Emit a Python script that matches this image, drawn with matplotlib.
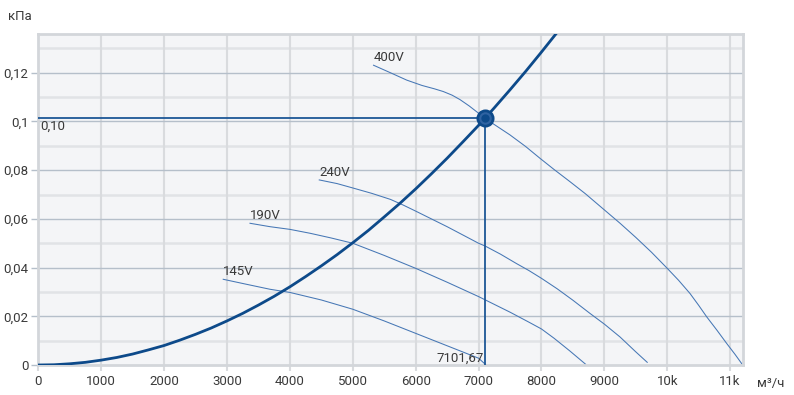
import matplotlib.pyplot as plt

plt.rcParams['font.family'] = ['Roboto', 'DejaVu Sans']

# system curve
sys_x = [0, 250, 500, 750, 1000, 1250, 1500, 1750, 2000, 2250, 2500, 2750,
         3000, 3250, 3500, 3750, 4000, 4250, 4500, 4750, 5000, 5250, 5500,
         5750, 6000, 6250, 6500, 6750, 7000, 7101.67, 7250, 7500, 7750,
         8000, 8250, 8500]
sys_y = [0, 0.0001, 0.0005, 0.0011, 0.0020, 0.0031, 0.0045, 0.0062, 0.0080,
         0.0102, 0.0126, 0.0152, 0.0181, 0.0212, 0.0246, 0.0282, 0.0321,
         0.0363, 0.0407, 0.0453, 0.0502, 0.0553, 0.0608, 0.0664, 0.0723,
         0.0785, 0.0849, 0.0916, 0.0984, 0.1013, 0.1056, 0.1130, 0.1206,
         0.1285, 0.1366, 0.1451]

# fan curves
v400_x = [5330, 5600, 5857, 6100, 6300, 6439, 6580, 6704, 6850, 7000, 7101.67,
          7300, 7499, 7750, 7976, 8200, 8453, 8700, 9000, 9250, 9500, 9750,
          10000, 10180, 10361, 10500, 10627, 10790, 10944, 11080, 11200]
v400_y = [0.1231, 0.1200, 0.1170, 0.1148, 0.1134, 0.1123, 0.1108, 0.1090,
          0.1064, 0.1034, 0.1013, 0.0979, 0.0945, 0.0897, 0.0849, 0.0803,
          0.0753, 0.0703, 0.0637, 0.0582, 0.0524, 0.0463, 0.0397, 0.0348,
          0.0294, 0.0245, 0.0198, 0.0143, 0.0089, 0.0043, 0.0]

v240_x = [4467, 4750, 5000, 5300, 5600, 5800, 6000, 6250, 6500, 6750, 7000,
          7101.67, 7350, 7600, 7800, 8000, 8250, 8500, 8771, 9000, 9250, 9500, 9682]
v240_y = [0.0760, 0.0745, 0.0727, 0.0705, 0.0680, 0.0657, 0.0632, 0.0600,
          0.0568, 0.0534, 0.0500, 0.0489, 0.0455, 0.0417, 0.0388, 0.0356,
          0.0313, 0.0266, 0.0212, 0.0168, 0.0115, 0.0054, 0.0011]

v190_x = [3366, 3684, 4000, 4320, 4650, 5000, 5500, 6000, 6500, 7000, 7500,
          7800, 8000, 8200, 8450, 8703]
v190_y = [0.0582, 0.0568, 0.0557, 0.0541, 0.0522, 0.0500, 0.0450, 0.0397,
          0.0340, 0.0281, 0.0217, 0.0176, 0.0148, 0.0110, 0.0058, 0.0003]

v145_x = [2940, 3300, 3684, 4000, 4500, 5000, 5500, 6000, 6500, 7000, 7120]
v145_y = [0.0352, 0.0332, 0.0311, 0.0298, 0.0267, 0.0229, 0.0181, 0.0130,
          0.0079, 0.0028, 0.0]

curves = [('400V', v400_x, v400_y), ('240V', v240_x, v240_y),
          ('190V', v190_x, v190_y), ('145V', v145_x, v145_y)]

op_x = 7101.67
op_y = 0.1013

x_ticks = [0, 1000, 2000, 3000, 4000, 5000, 6000, 7000, 8000, 9000, 10000, 11000]
x_labels = ['0', '1000', '2000', '3000', '4000', '5000', '6000', '7000', '8000', '9000', '10k', '11k']
y_major = [0, 0.02, 0.04, 0.06, 0.08, 0.1, 0.12]
y_labels = ['0', '0,02', '0,04', '0,06', '0,08', '0,1', '0,12']
y_minor = [0.01, 0.03, 0.05, 0.07, 0.09, 0.11, 0.13]

dark = '#0d4a8a'
thin = '#4677b5'
txt = '#3a3a3a'

fig = plt.figure(figsize=(7.94, 3.95), dpi=100)
ax = fig.add_axes([38.3 / 794, 1 - 365 / 395, (742.7 - 38.3) / 794, (365 - 34.3) / 395])
ax.set_facecolor('#f4f5f7')
ax.set_xlim(0, 11200)
ax.set_ylim(0, 0.1358)

# grid
for v in y_minor:
    ax.axhline(v, color='#e1e3e6', lw=1.8, zorder=0)
for v in x_ticks[1:]:
    ax.axvline(v, color='#d9dbde', lw=1.5, zorder=0)
for v in y_major[1:]:
    ax.axhline(v, color='#b5bfca', lw=1.0, zorder=0.5)

for s in ax.spines.values():
    s.set_color('#d3d6da')
    s.set_linewidth(2)

ax.set_xticks(x_ticks, x_labels)
ax.set_yticks(y_major, y_labels)
ax.tick_params(axis='x', length=4, width=1.5, color='#d9dbde', pad=3, labelsize=9.5, labelcolor=txt)
ax.tick_params(axis='y', length=5, width=1.0, color='#b5bfca', pad=2, labelsize=9.5, labelcolor=txt)

# fan curves
for name, xs, ys in curves:
    ax.plot(xs, ys, color=thin, lw=0.75, zorder=2)
    ax.annotate(name, (xs[0], ys[0]), xytext=(0, 1), textcoords='offset points',
                ha='left', va='bottom', fontsize=9.5, color=txt, zorder=5)

# system curve
ax.plot(sys_x, sys_y, color=dark, lw=2, zorder=3)

# operating point
ax.plot([0, op_x], [op_y, op_y], color='#1d5796', lw=1.3, zorder=3)
ax.plot([op_x, op_x], [0, op_y], color='#1d5796', lw=1.3, zorder=3)
ax.plot([op_x], [op_y], marker='o', ms=11, mfc='#2f63a2', mec=dark, mew=2, zorder=4)
ax.plot([op_x], [op_y], marker='o', ms=5, mfc=dark, mec=dark, zorder=4)

ax.annotate('0,10', (0, op_y), xytext=(1.5, -1), textcoords='offset points',
            ha='left', va='top', fontsize=9.5, color=txt)
ax.annotate('7101,67', (op_x, 0), xytext=(-1, 0), textcoords='offset points',
            ha='right', va='bottom', fontsize=9.5, color=txt)

fig.text(8 / 794, 1 - 16 / 395, 'кПа', ha='left', va='center', fontsize=9.5, color=txt)
fig.text(757 / 794, 1 - 383 / 395, 'м³/ч', ha='left', va='center', fontsize=9.5, color=txt)

fig.savefig('out.png', dpi=100)
